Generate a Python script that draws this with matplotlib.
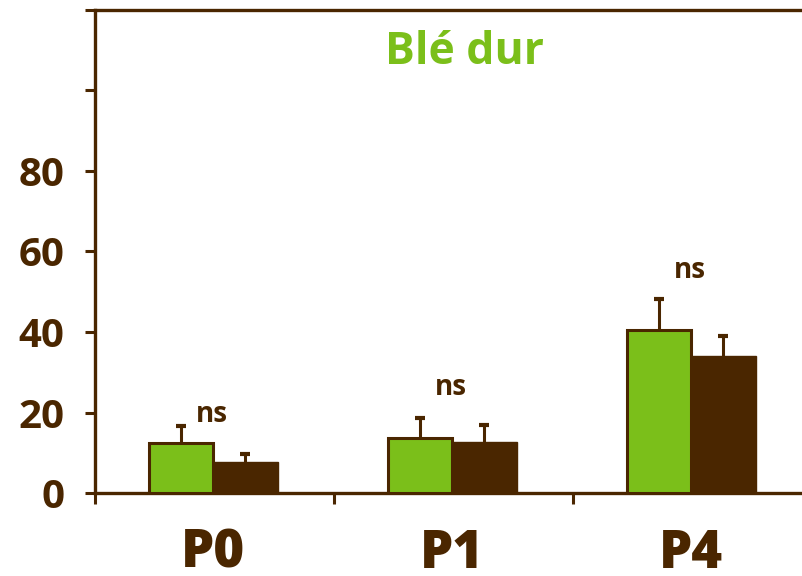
import numpy as np
import matplotlib.pyplot as plt

# Data

periods = ['P0', 'P1', 'P4']
green_vals = [12.3, 13.7, 40.5]
green_err = [4.4, 5.0, 7.8]
brown_vals = [7.6, 12.7, 34.0]
brown_err = [2.0, 4.3, 5.1]
sig_labels = ['ns', 'ns', 'ns']
sig_y = [19.4, 26.1, 55.4]
title = 'Blé dur'

GREEN = '#7BBF1A'
BROWN = '#4A2600'


def main():
    plt.rcParams['font.family'] = ['Open Sans', 'DejaVu Sans']

    fig = plt.figure(figsize=(8.03, 5.76), dpi=100)
    ax = fig.add_axes([95 / 803, 83 / 576, 717 / 803, 483 / 576])

    centers = np.arange(len(periods)) + 0.5 - 0.006
    w = 0.27

    ax.bar(centers - w / 2, green_vals, w, color=GREEN, edgecolor=BROWN,
           linewidth=2.2, zorder=3)
    ax.bar(centers + w / 2, brown_vals, w, color=BROWN, edgecolor=BROWN,
           linewidth=1, zorder=3)

    # symmetric bars, lower half hidden behind the bars
    ax.errorbar(centers - w / 2, green_vals, yerr=green_err,
                fmt='none', ecolor=BROWN, elinewidth=2.2, capsize=3.5,
                capthick=3, zorder=2)
    ax.errorbar(centers + w / 2, brown_vals, yerr=brown_err,
                fmt='none', ecolor=BROWN, elinewidth=2.2, capsize=3.5,
                capthick=3, zorder=2)

    for x, y, s in zip(centers, sig_y, sig_labels):
        ax.text(x - 0.005, y, s, ha='center', va='center', fontsize=20,
                fontweight='bold', color=BROWN)

    ax.text(1.545, 109.5, title, ha='center', va='center', fontsize=32,
            fontweight='bold', color=GREEN)

    ax.set_xlim(0, 3)
    ax.set_ylim(0, 120)

    ax.set_yticks(range(0, 121, 20))
    ax.set_yticklabels(['0', '20', '40', '60', '80', '', ''])
    ax.tick_params(axis='y', direction='out', length=7, width=2.2,
                   color=BROWN, labelcolor=BROWN, labelsize=29, pad=15)
    for lab in ax.get_yticklabels():
        lab.set_fontweight('bold')

    ax.set_xticks([0, 1, 2, 3])
    ax.set_xticklabels([])
    ax.tick_params(axis='x', which='major', direction='out', length=8,
                   width=2.2, color=BROWN)
    ax.set_xticks(centers, minor=True)
    ax.set_xticklabels(periods, minor=True)
    ax.tick_params(axis='x', which='minor', length=0, pad=25,
                   labelcolor=BROWN, labelsize=38)
    for lab in ax.get_xticklabels(minor=True):
        lab.set_fontweight('heavy')

    for side in ['left', 'bottom', 'top']:
        ax.spines[side].set_color(BROWN)
        ax.spines[side].set_linewidth(2.4)
    ax.spines['right'].set_visible(False)

    fig.savefig('out.png', dpi=100)


if __name__ == '__main__':
    main()
